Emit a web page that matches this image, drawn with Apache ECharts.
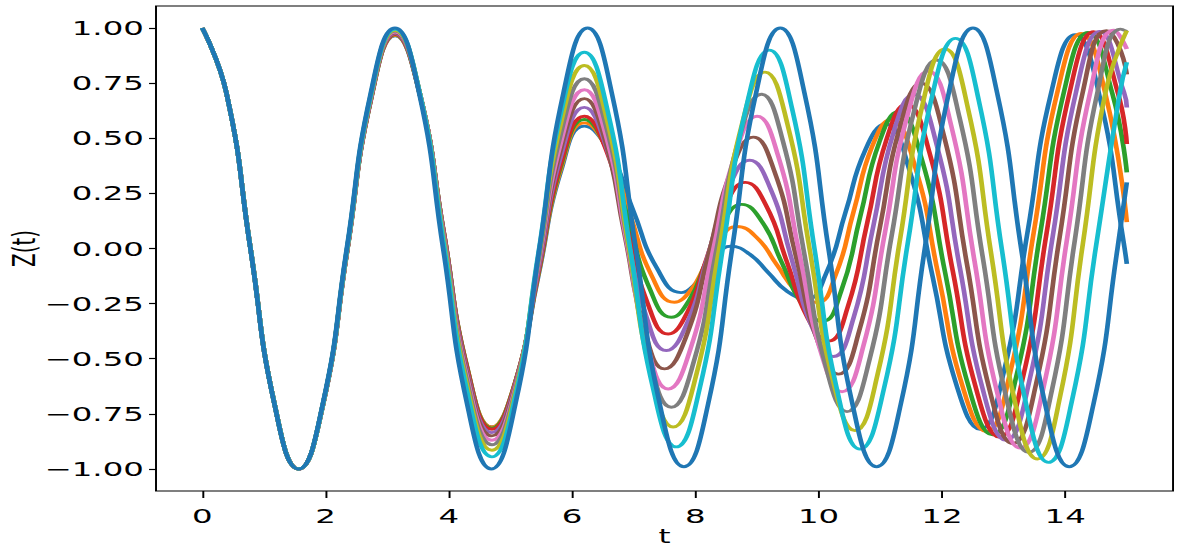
<!DOCTYPE html>
<html><head><meta charset="utf-8">
<script src="https://cdn.jsdelivr.net/npm/echarts@6/dist/echarts.min.js"></script>
<style>
html,body{margin:0;padding:0;background:#fff;overflow:hidden}
#wrap{width:1196px;height:550px;overflow:hidden}
#c{width:738.3px;height:550px;transform:scaleX(1.62);transform-origin:0 0}
</style>
</head><body><div id="wrap"><div id="c"></div></div>
<script>
const xTicks = [0, 2, 4, 6, 8, 10, 12, 14];
const yTicks = [-1, -0.75, -0.5, -0.25, 0, 0.25, 0.5, 0.75, 1];
const colors = ['#1f77b4','#ff7f0e','#2ca02c','#d62728','#9467bd','#8c564b','#e377c2','#7f7f7f','#bcbd22','#17becf','#1f77b4'];

const k0 = [[0,1],[0.391,0.707],[0.783,0],[1.174,-0.707],[1.565,-1],[1.956,-0.713],[2.348,-0.018],[2.739,0.678],[3.13,0.965],[3.523,0.706],[3.915,0.078],[4.308,-0.551],[4.70,-0.81],[5.075,-0.611],[5.45,-0.128],[5.825,0.356],[6.2,0.555],[6.593,0.445],[6.985,0.178],[7.378,-0.09],[7.77,-0.2],[7.97,-0.169],[8.17,-0.095],[8.37,-0.021],[8.57,0.01],[8.878,-0.025],[9.185,-0.11],[9.493,-0.195],[9.8,-0.23],[10.12,-0.114],[10.44,0.168],[10.76,0.449],[11.08,0.565],[11.465,0.363],[11.85,-0.128],[12.235,-0.618],[12.62,-0.82],[13.005,-0.559],[13.39,0.075],[13.775,0.709],[14.16,0.97],[14.553,0.697],[14.945,0.035],[15,-0.07]];
const k1 = [[0,1],[0.391,0.707],[0.783,0],[1.174,-0.707],[1.565,-1],[1.956,-0.712],[2.348,-0.017],[2.739,0.679],[3.13,0.967],[3.523,0.707],[3.915,0.079],[4.308,-0.55],[4.70,-0.81],[5.075,-0.609],[5.45,-0.12],[5.825,0.368],[6.2,0.57],[6.565,0.451],[6.93,0.163],[7.295,-0.125],[7.66,-0.244],[7.913,-0.194],[8.165,-0.072],[8.418,0.05],[8.67,0.10],[8.995,0.05],[9.32,-0.073],[9.645,-0.195],[9.97,-0.245],[10.27,-0.124],[10.57,0.17],[10.87,0.464],[11.17,0.585],[11.558,0.378],[11.945,-0.123],[12.333,-0.623],[12.72,-0.83],[13.105,-0.566],[13.49,0.073],[13.875,0.711],[14.26,0.975],[14.653,0.701],[15,0.12]];
const k2 = [[0,1],[0.391,0.707],[0.783,0],[1.174,-0.707],[1.565,-1],[1.956,-0.712],[2.348,-0.015],[2.739,0.681],[3.13,0.97],[3.523,0.709],[3.915,0.078],[4.308,-0.554],[4.70,-0.815],[5.075,-0.611],[5.45,-0.115],[5.825,0.381],[6.2,0.585],[6.553,0.454],[6.905,0.137],[7.258,-0.181],[7.61,-0.312],[7.895,-0.237],[8.18,-0.056],[8.465,0.125],[8.75,0.2],[9.078,0.123],[9.405,-0.065],[9.733,-0.253],[10.06,-0.33],[10.368,-0.191],[10.675,0.145],[10.983,0.481],[11.29,0.62],[11.673,0.406],[12.055,-0.113],[12.438,-0.631],[12.82,-0.845],[13.208,-0.579],[13.595,0.068],[13.983,0.714],[14.37,0.98],[14.763,0.705],[15,0.345]];
const k3 = [[0,1],[0.391,0.707],[0.783,0],[1.174,-0.707],[1.565,-1],[1.956,-0.711],[2.348,-0.014],[2.739,0.683],[3.13,0.972],[3.523,0.71],[3.915,0.076],[4.308,-0.558],[4.70,-0.82],[5.075,-0.613],[5.45,-0.11],[5.825,0.393],[6.2,0.60],[6.54,0.456],[6.88,0.106],[7.22,-0.244],[7.56,-0.388],[7.873,-0.288],[8.185,-0.044],[8.498,0.2],[8.81,0.30],[9.148,0.195],[9.485,-0.06],[9.823,-0.315],[10.16,-0.42],[10.475,-0.263],[10.79,0.118],[11.105,0.498],[11.42,0.655],[11.798,0.435],[12.175,-0.1],[12.553,-0.634],[12.93,-0.855],[13.313,-0.587],[13.695,0.064],[14.078,0.715],[14.46,0.983],[14.853,0.708],[15,0.474]];
const k4 = [[0,1],[0.391,0.707],[0.783,0],[1.174,-0.707],[1.565,-1],[1.956,-0.711],[2.348,-0.013],[2.739,0.686],[3.13,0.975],[3.523,0.711],[3.915,0.07],[4.308,-0.571],[4.70,-0.835],[5.075,-0.62],[5.45,-0.098],[5.825,0.425],[6.2,0.64],[6.533,0.479],[6.865,0.089],[7.198,-0.302],[7.53,-0.463],[7.868,-0.337],[8.205,-0.032],[8.543,0.274],[8.88,0.40],[9.22,0.27],[9.56,-0.045],[9.9,-0.36],[10.24,-0.49],[10.565,-0.316],[10.89,0.105],[11.215,0.526],[11.54,0.70],[11.915,0.471],[12.29,-0.085],[12.665,-0.641],[13.04,-0.87],[13.42,-0.599],[13.8,0.058],[14.18,0.714],[14.56,0.985],[14.953,0.71],[15,0.64]];
const k5 = [[0,1],[0.391,0.707],[0.783,0],[1.174,-0.707],[1.565,-1],[1.956,-0.711],[2.348,-0.011],[2.739,0.688],[3.13,0.978],[3.523,0.711],[3.915,0.064],[4.308,-0.583],[4.70,-0.85],[5.075,-0.627],[5.45,-0.085],[5.825,0.457],[6.2,0.68],[6.525,0.501],[6.85,0.067],[7.175,-0.367],[7.50,-0.546],[7.86,-0.393],[8.22,-0.021],[8.58,0.351],[8.94,0.505],[9.285,0.348],[9.63,-0.033],[9.975,-0.413],[10.32,-0.57],[10.655,-0.377],[10.99,0.09],[11.325,0.557],[11.66,0.75],[12.033,0.511],[12.405,-0.068],[12.778,-0.646],[13.15,-0.885],[13.53,-0.612],[13.91,0.052],[14.29,0.715],[14.67,0.988],[14.85,0.93],[15,0.79]];
const k6 = [[0,1],[0.391,0.707],[0.783,0],[1.174,-0.707],[1.565,-1],[1.956,-0.71],[2.348,-0.009],[2.739,0.692],[3.13,0.982],[3.523,0.712],[3.915,0.056],[4.308,-0.60],[4.70,-0.87],[5.075,-0.638],[5.45,-0.075],[5.825,0.488],[6.2,0.72],[6.54,0.522],[6.88,0.042],[7.22,-0.439],[7.56,-0.637],[7.92,-0.456],[8.28,-0.019],[8.64,0.419],[9.0,0.60],[9.345,0.418],[9.69,-0.025],[10.035,-0.468],[10.38,-0.65],[10.73,-0.438],[11.08,0.078],[11.43,0.592],[11.78,0.805],[12.153,0.555],[12.525,-0.05],[12.898,-0.655],[13.27,-0.905],[13.65,-0.628],[14.03,0.043],[14.41,0.713],[14.79,0.99],[15,0.905]];
const k7 = [[0,1],[0.391,0.707],[0.783,0],[1.174,-0.707],[1.565,-1],[1.956,-0.709],[2.348,-0.007],[2.739,0.696],[3.13,0.986],[3.523,0.712],[3.915,0.048],[4.308,-0.616],[4.70,-0.89],[5.075,-0.648],[5.45,-0.06],[5.825,0.528],[6.2,0.77],[6.553,0.553],[6.905,0.025],[7.258,-0.502],[7.61,-0.72],[7.975,-0.513],[8.34,-0.01],[8.705,0.493],[9.07,0.70],[9.418,0.49],[9.765,-0.02],[10.113,-0.53],[10.46,-0.74],[10.823,-0.507],[11.185,0.058],[11.548,0.622],[11.91,0.855],[12.285,0.595],[12.66,-0.035],[13.035,-0.665],[13.41,-0.925],[13.783,-0.645],[14.155,0.035],[14.528,0.714],[14.9,0.995],[15,0.985]];
const k8 = [[0,1],[0.391,0.707],[0.783,0],[1.174,-0.707],[1.565,-1],[1.956,-0.709],[2.348,-0.005],[2.739,0.699],[3.13,0.99],[3.523,0.712],[3.915,0.038],[4.308,-0.637],[4.70,-0.915],[5.075,-0.66],[5.45,-0.043],[5.825,0.575],[6.2,0.83],[6.56,0.591],[6.92,0.01],[7.28,-0.57],[7.64,-0.81],[8.013,-0.575],[8.385,-0.005],[8.758,0.565],[9.13,0.80],[9.495,0.563],[9.86,-0.013],[10.225,-0.589],[10.59,-0.826],[10.955,-0.573],[11.32,0.04],[11.685,0.652],[12.05,0.905],[12.425,0.633],[12.8,-0.025],[13.175,-0.683],[13.55,-0.955],[13.918,-0.671],[14.285,0.018],[14.653,0.706],[15,0.988]];
const k9 = [[0,1],[0.391,0.707],[0.783,0],[1.174,-0.707],[1.565,-1],[1.956,-0.708],[2.348,-0.003],[2.739,0.703],[3.13,0.995],[3.523,0.712],[3.915,0.025],[4.308,-0.662],[4.70,-0.945],[5.075,-0.677],[5.45,-0.028],[5.825,0.622],[6.2,0.89],[6.573,0.629],[6.945,-0.005],[7.318,-0.639],[7.69,-0.90],[8.068,-0.637],[8.445,0.0],[8.823,0.637],[9.2,0.90],[9.568,0.636],[9.935,-0.005],[10.303,-0.646],[10.67,-0.91],[11.058,-0.638],[11.445,0.022],[11.833,0.681],[12.22,0.953],[12.598,0.672],[12.975,-0.009],[13.353,-0.689],[13.73,-0.97],[14.115,-0.684],[14.5,0.01],[14.885,0.704],[15,0.845]];
const k10 = [[0,1],[0.391,0.707],[0.781,0],[1.172,-0.707],[1.563,-1],[1.954,-0.707],[2.345,0],[2.735,0.707],[3.126,1],[3.517,0.707],[3.908,0],[4.298,-0.707],[4.689,-1],[5.08,-0.707],[5.471,0],[5.861,0.707],[6.252,1],[6.643,0.707],[7.034,0],[7.424,-0.707],[7.815,-0.99],[8.206,-0.707],[8.597,0],[8.987,0.707],[9.378,1],[9.769,0.707],[10.16,0],[10.55,-0.707],[10.941,-0.99],[11.332,-0.707],[11.723,0],[12.113,0.707],[12.504,1],[12.895,0.707],[13.286,0],[13.676,-0.707],[14.067,-0.99],[14.458,-0.707],[14.849,0],[15,0.30]];

const curves = [k0, k1, k2, k3, k4, k5, k6, k7, k8, k9, k10];

const fontFam = 'DejaVu Sans';
const fs = 20;
const chart = echarts.init(document.getElementById('c'), null, {renderer: 'svg'});
chart.setOption({
  animation: false,
  backgroundColor: '#fff',
  grid: {left: 96.3, top: 6, width: 627.8, height: 485, show: true, borderColor: '#000', borderWidth: 1.2,
    backgroundColor: 'transparent', containLabel: false, outerBoundsMode: 'none'},
  xAxis: {
    type: 'value', min: -0.75, max: 15.75,
    axisLine: {show: false, onZero: false},
    splitLine: {show: false},
    axisTick: {show: true, customValues: xTicks, length: 7, lineStyle: {color: '#000', width: 1.2}},
    axisLabel: {customValues: xTicks, color: '#000', fontFamily: fontFam, fontSize: fs, margin: 15},
    name: 't', nameLocation: 'middle', nameGap: 37, nameMoveOverlap: false,
    nameTextStyle: {color: '#000', fontFamily: fontFam, fontSize: 19, lineHeight: 17}
  },
  yAxis: {
    type: 'value', min: -1.1, max: 1.1,
    axisLine: {show: false, onZero: false},
    splitLine: {show: false},
    axisTick: {show: true, customValues: yTicks, length: 4.3, lineStyle: {color: '#000', width: 1.2}},
    axisLabel: {customValues: yTicks, color: '#000', fontFamily: fontFam, fontSize: fs, margin: 7.5,
      formatter: v => (v < 0 ? '\u2212' : '') + Math.abs(v).toFixed(2)},
    name: 'Z(t)', nameLocation: 'middle', nameGap: 72, nameRotate: 90, nameMoveOverlap: false,
    nameTextStyle: {color: '#000', fontFamily: fontFam, fontSize: fs, lineHeight: 20}
  },
  series: curves.map((d, i) => ({
    type: 'line', data: d, smooth: 0.5, showSymbol: false, symbol: 'none',
    lineStyle: {color: colors[i], width: 2.9}, itemStyle: {color: colors[i]},
    emphasis: {disabled: true}, clip: true
  }))
});
</script></body></html>
